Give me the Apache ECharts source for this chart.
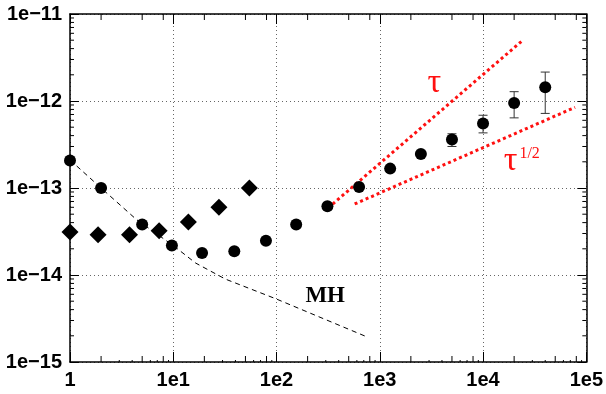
<!DOCTYPE html>
<html>
<head>
<meta charset="utf-8">
<script src="https://cdn.jsdelivr.net/npm/echarts@6/dist/echarts.min.js"></script>
<style>html,body{margin:0;padding:0;background:#fff}#c{width:606px;height:394px}</style>
</head>
<body>
<div id="c"></div>
<script>
// ---- data ----
const xTickLabels = ['1', '1e1', '1e2', '1e3', '1e4', '1e5'];
const yTickLabels = ['1e\u221215', '1e\u221214', '1e\u221213', '1e\u221212', '1e\u221211'];

const circleX = [1, 2, 5, 9.7, 19, 39, 79, 155, 311, 630, 1260, 2500, 5000, 10000, 20000, 40000];
const circleY = [2.07e-13, 1.0e-13, 3.8e-14, 2.18e-14, 1.79e-14, 1.87e-14, 2.48e-14, 3.8e-14, 6.16e-14, 1.03e-13, 1.67e-13, 2.46e-13, 3.6e-13, 5.5e-13, 9.5e-13, 1.44e-12];

const errX = [5000, 10000, 20000, 40000];
const errLow = [3.0e-13, 4.3e-13, 6.4e-13, 7.2e-13];
const errHigh = [4.2e-13, 6.86e-13, 1.28e-12, 2.15e-12];

const diamondX = [1, 1.87, 3.77, 7.3, 14, 27.7, 54.6];
const diamondY = [3.12e-14, 2.91e-14, 2.91e-14, 3.23e-14, 4.07e-14, 6.0e-14, 1.0e-13];

const mhX = [1, 2, 4.4, 10, 16.5, 32, 100, 770];
const mhY = [2.1e-13, 1.0e-13, 4.34e-14, 2.18e-14, 1.37e-14, 8.97e-15, 5.29e-15, 1.92e-15];

const tauX = [316, 24300];
const tauY = [5.9e-14, 5.0e-12];

const sqrtX = [571, 77800];
const sqrtY = [6.55e-14, 8.47e-13];

// annotation anchor points (data coordinates)
const annTau = [3380, 1.6e-12];
const annSqrt = [18500, 2.05e-13];
const annSqrtExp = [22500, 2.5e-13];
const annMH = [296, 5.8e-15];

const X_MIN = 1, X_MAX = 1e5, Y_MIN = 1e-15, Y_MAX = 1e-11;
// y values are plotted in units of 1e-15 to keep the log scale numerically safe
const YS = 1e15;
const sy = v => v * YS;

const xMinorMid = [], xMinorSmall = [], yMinor = [];
for (let k = 0; k < 5; k++) {
  [2, 5, 8].forEach(m => xMinorMid.push(m * Math.pow(10, k)));
  [3, 4, 6, 7, 9].forEach(m => xMinorSmall.push(m * Math.pow(10, k)));
}
for (let k = 0; k < 4; k++) {
  [2, 3, 4, 5, 6, 7, 8, 9].forEach(m => yMinor.push(m * Math.pow(10, k)));
}

const LABEL_FONT = { fontFamily: 'Liberation Sans, Arial, sans-serif', fontWeight: 'bold', fontSize: 20, color: '#000' };
const AXIS_LINE = { show: true, lineStyle: { color: '#000', width: 1.5 } };
const GRID_LINE = { show: true, lineStyle: { color: '#666', width: 1, type: [1, 3] } };

function idx(v) { return Math.round(Math.log10(v)); }

const chart = echarts.init(document.getElementById('c'), null, { renderer: 'canvas' });

function tickSeries(vals, axis, len, both) {
  return {
    type: 'custom',
    silent: true,
    z: 5,
    clip: false,
    data: vals.map(v => axis === 'x' ? [v, sy(Y_MIN)] : [X_MIN, v]),
    renderItem: function (params, api) {
      const v = axis === 'x' ? api.value(0) : api.value(1);
      const children = [];
      if (axis === 'x') {
        const a = api.coord([v, sy(Y_MIN)]);
        const b = api.coord([v, sy(Y_MAX)]);
        children.push({ type: 'line', shape: { x1: a[0], y1: a[1], x2: a[0], y2: a[1] - len }, style: { stroke: '#000', lineWidth: 1 } });
        if (both) children.push({ type: 'line', shape: { x1: b[0], y1: b[1], x2: b[0], y2: b[1] + len }, style: { stroke: '#000', lineWidth: 1 } });
      } else {
        const a = api.coord([X_MIN, v]);
        const b = api.coord([X_MAX, v]);
        children.push({ type: 'line', shape: { x1: a[0], y1: a[1], x2: a[0] + len, y2: a[1] }, style: { stroke: '#000', lineWidth: 1 } });
        if (both) children.push({ type: 'line', shape: { x1: b[0], y1: b[1], x2: b[0] - len, y2: b[1] }, style: { stroke: '#000', lineWidth: 1 } });
      }
      return { type: 'group', children: children };
    }
  };
}

const option = {
  animation: false,
  backgroundColor: '#fff',
  grid: { left: 70, top: 14, width: 521, height: 348, containLabel: false },
  xAxis: [
    {
      type: 'log', logBase: 10, min: X_MIN, max: X_MAX, splitNumber: 5, position: 'bottom',
      axisLine: AXIS_LINE,
      axisTick: { show: true, inside: true, length: 10, lineStyle: { color: '#000', width: 1 } },
      axisLabel: Object.assign({ margin: 8, formatter: v => xTickLabels[idx(v)] }, LABEL_FONT),
      splitLine: GRID_LINE
    },
    {
      type: 'log', logBase: 10, min: X_MIN, max: X_MAX, splitNumber: 5, position: 'top',
      axisLine: AXIS_LINE,
      axisTick: { show: true, inside: true, length: 10, lineStyle: { color: '#000', width: 1 } },
      axisLabel: { show: false }, splitLine: { show: false }
    }
  ],
  yAxis: [
    {
      type: 'log', logBase: 10, min: sy(Y_MIN), max: sy(Y_MAX), splitNumber: 4, position: 'left',
      axisLine: AXIS_LINE,
      axisTick: { show: true, inside: true, length: 9, lineStyle: { color: '#000', width: 1 } },
      axisLabel: Object.assign({ margin: 8, formatter: v => yTickLabels[idx(v)] }, LABEL_FONT),
      splitLine: GRID_LINE
    },
    {
      type: 'log', logBase: 10, min: sy(Y_MIN), max: sy(Y_MAX), splitNumber: 4, position: 'right',
      axisLine: AXIS_LINE,
      axisTick: { show: true, inside: true, length: 9, lineStyle: { color: '#000', width: 1 } },
      axisLabel: { show: false }, splitLine: { show: false }
    }
  ],
  series: [
    tickSeries(xMinorMid, 'x', 6, true),
    tickSeries(xMinorSmall, 'x', 2, false),
    tickSeries(yMinor.map(v => v), 'y', 4, true),
    {
      name: 'MH', type: 'line', z: 2, symbol: 'none', silent: true,
      data: mhX.map((x, i) => [x, sy(mhY[i])]),
      lineStyle: { color: '#000', width: 1, type: [5, 4] }
    },
    {
      name: 'tau', type: 'line', z: 2, symbol: 'none', silent: true,
      data: tauX.map((x, i) => [x, sy(tauY[i])]),
      lineStyle: { color: '#ff1010', width: 3, type: [3, 3] }
    },
    {
      name: 'sqrt', type: 'line', z: 2, symbol: 'none', silent: true,
      data: sqrtX.map((x, i) => [x, sy(sqrtY[i])]),
      lineStyle: { color: '#ff1010', width: 3, type: [3, 3] }
    },
    {
      name: 'err', type: 'custom', z: 3, silent: true,
      data: errX.map((x, i) => [x, sy(errLow[i]), sy(errHigh[i])]),
      encode: { x: 0, y: [1, 2] },
      renderItem: function (params, api) {
        const lo = api.coord([api.value(0), api.value(1)]);
        const hi = api.coord([api.value(0), api.value(2)]);
        const w = 4.5;
        const st = { stroke: '#333', lineWidth: 1 };
        return {
          type: 'group', children: [
            { type: 'line', shape: { x1: lo[0], y1: lo[1], x2: hi[0], y2: hi[1] }, style: st },
            { type: 'line', shape: { x1: lo[0] - w, y1: lo[1], x2: lo[0] + w, y2: lo[1] }, style: st },
            { type: 'line', shape: { x1: hi[0] - w, y1: hi[1], x2: hi[0] + w, y2: hi[1] }, style: st }
          ]
        };
      }
    },
    {
      name: 'circles', type: 'scatter', z: 4, symbol: 'circle', symbolSize: 12,
      data: circleX.map((x, i) => [x, sy(circleY[i])]),
      itemStyle: { color: '#000', opacity: 1 }
    },
    {
      name: 'diamonds', type: 'scatter', z: 4, symbol: 'diamond', symbolSize: 17,
      data: diamondX.map((x, i) => [x, sy(diamondY[i])]),
      itemStyle: { color: '#000', opacity: 1 }
    }
  ]
};
chart.setOption(option);

const pTau = chart.convertToPixel({ gridIndex: 0 }, [annTau[0], sy(annTau[1])]);
const pSqrt = chart.convertToPixel({ gridIndex: 0 }, [annSqrt[0], sy(annSqrt[1])]);
const pSqrtE = chart.convertToPixel({ gridIndex: 0 }, [annSqrtExp[0], sy(annSqrtExp[1])]);
const pMH = chart.convertToPixel({ gridIndex: 0 }, [annMH[0], sy(annMH[1])]);
const serif = 'Liberation Serif, Times New Roman, serif';
chart.setOption({
  graphic: [
    { type: 'text', x: pTau[0], y: pTau[1], z: 10, style: { text: '\u03c4', fill: '#ff1010', font: '34px ' + serif, align: 'center', verticalAlign: 'middle' } },
    { type: 'text', x: pSqrt[0], y: pSqrt[1], z: 10, style: { text: '\u03c4', fill: '#ff1010', font: '34px ' + serif, align: 'center', verticalAlign: 'middle' } },
    { type: 'text', x: pSqrtE[0], y: pSqrtE[1], z: 10, style: { text: '1/2', fill: '#ff1010', font: '16px ' + serif, align: 'left', verticalAlign: 'middle' } },
    { type: 'text', x: pMH[0], y: pMH[1], z: 10, style: { text: 'MH', fill: '#000', font: 'bold 23px ' + serif, align: 'center', verticalAlign: 'middle' } }
  ]
});
</script>
</body>
</html>
